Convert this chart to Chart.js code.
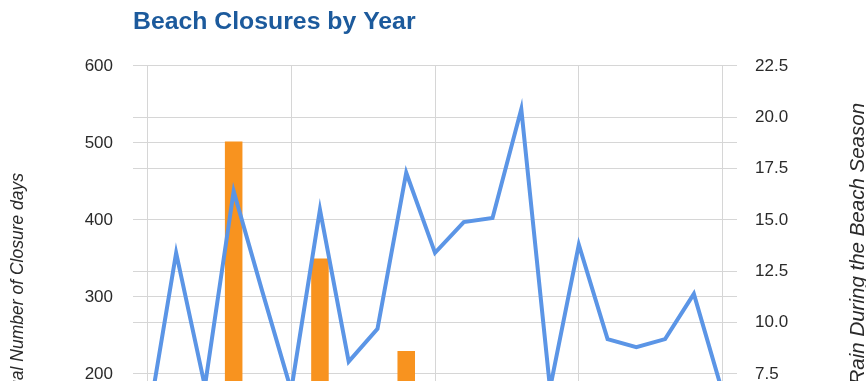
<!DOCTYPE html>
<html>
<head>
<meta charset="utf-8">
<script src="https://cdn.jsdelivr.net/npm/chart.js@4/dist/chart.umd.min.js"></script>
<style>
  html, body { margin: 0; padding: 0; overflow: hidden; background: #fff; }
  #caixa { width: 866px; height: 600px; position: relative; }
</style>
</head>
<body>
<div id="caixa"><canvas id="grafico"></canvas></div>
<script>
const YEARS = [
    '1995', '1996', '1997', '1998', '1999', '2000', '2001', '2002', '2003', '2004',
    '2005', '2006', '2007', '2008', '2009', '2010', '2011', '2012', '2013', '2014', '2015',
];
const CLOSURE_DAYS = [95, 60, 140, 502, 80, 45, 350, 110, 150, 230, 70, 60, 90, 130, 40, 85, 55, 60, 75, 100, 50];
const RAIN_INCHES = [5.0, 13.4, 6.9, 16.4, 11.5, 6.7, 15.5, 8.1, 9.7, 17.3, 13.4, 14.9, 15.1, 20.4, 6.8, 13.8, 9.2, 8.8, 9.2, 11.4, 6.6];

const FONTE = "'Liberation Sans', Arial, sans-serif";
const COR_GRADE = '#d6d6d6';

// the right axis title reads bottom-to-top, Chart.js only does top-to-bottom
const tituloDireita = {
    id: 'tituloDireita',
    afterDraw(chart) {
        const ctx = chart.ctx;
        ctx.save();
        ctx.translate(chart.width - 8, chart.chartArea.top + 37);
        ctx.rotate(-Math.PI / 2);
        ctx.font = `italic 20.5px ${FONTE}`;
        ctx.fillStyle = '#2a2a2a';
        ctx.textAlign = 'right';
        ctx.textBaseline = 'middle';
        ctx.fillText('Inches of Rain During the Beach Season', 0, 0);
        ctx.restore();
    },
};

new Chart(document.getElementById('grafico'), {
    data: {
        labels: YEARS,
        datasets: [
            {
                type: 'line',
                label: 'Rain (inches)',
                data: RAIN_INCHES,
                yAxisID: 'y1',
                borderColor: '#5b95e6',
                borderWidth: 4,
                pointRadius: 0,
                tension: 0,
                order: 0,
            },
            {
                type: 'bar',
                label: 'Closure days',
                data: CLOSURE_DAYS,
                yAxisID: 'y',
                backgroundColor: '#f8931f',
                categoryPercentage: 1,
                barPercentage: 0.61,
                order: 1,
            },
        ],
    },
    options: {
        responsive: true,
        maintainAspectRatio: false,
        animation: false,
        layout: { padding: 0 },
        plugins: {
            legend: { display: false },
            tooltip: { enabled: false },
            title: {
                display: true,
                text: 'Beach Closures by Year',
                align: 'start',
                fullSize: false,
                color: '#1c5a9c',
                font: { family: FONTE, size: 24.8, weight: 'bold' },
                padding: { top: 7, bottom: 29.2 },
            },
        },
        scales: {
            x: {
                offset: true,
                grid: {
                    offset: false,
                    drawTicks: false,
                    color: (c) => (c.index % 5 === 0 ? COR_GRADE : 'rgba(0,0,0,0)'),
                },
                border: { display: false },
                ticks: {
                    autoSkip: false,
                    maxRotation: 0,
                    color: '#2a2a2a',
                    font: { family: FONTE, size: 17 },
                    padding: 10,
                    callback: function (v, i) { return i % 5 === 0 ? this.getLabelForValue(v) : ''; },
                },
                afterFit: (s) => { s.height = 72; },
            },
            y: {
                position: 'left',
                min: 0,
                max: 600,
                grid: { color: COR_GRADE, drawTicks: false },
                border: { display: false },
                ticks: {
                    stepSize: 100,
                    padding: 20,
                    color: '#2a2a2a',
                    font: { family: FONTE, size: 17 },
                },
                title: {
                    display: true,
                    text: 'Annual Number of Closure days',
                    color: '#2a2a2a',
                    font: { family: FONTE, size: 17.5, style: 'italic' },
                    padding: { top: 8, bottom: 0 },
                },
                afterFit: (s) => { s.width = 133; },
            },
            y1: {
                position: 'right',
                min: 0,
                max: 22.5,
                grid: { color: COR_GRADE, drawTicks: false },
                border: { display: false },
                ticks: {
                    stepSize: 2.5,
                    padding: 18,
                    color: '#2a2a2a',
                    font: { family: FONTE, size: 17 },
                    callback: (v) => Number(v).toFixed(1),
                },
                afterFit: (s) => { s.width = 129; },
            },
        },
    },
    plugins: [tituloDireita],
});
</script>
</body>
</html>
